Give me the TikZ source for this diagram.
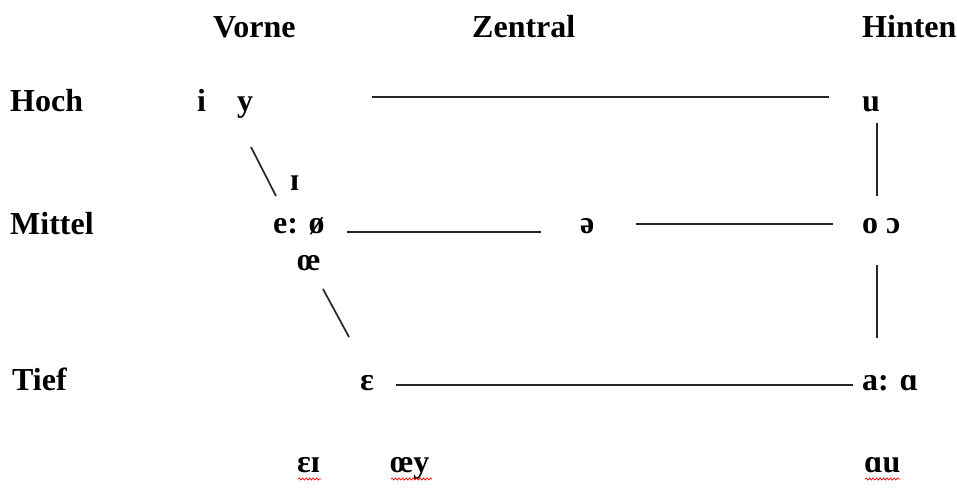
\documentclass[tikz,border=0pt]{standalone}
\usepackage{fontspec}
\setmainfont{Liberation Serif}
\usetikzlibrary{decorations.pathmorphing}
\begin{document}
\begin{tikzpicture}[x=1pt,y=-1pt,
  lbl/.style={anchor=base west,inner sep=0pt,font=\fontsize{32}{34}\selectfont\bfseries},
  ln/.style={line width=1.7pt,black!85},
  squig/.style={red,line width=0.7pt,decorate,decoration={snake,amplitude=1.1pt,segment length=3.5pt}}]
\useasboundingbox (0,0) rectangle (957,490);
% headings
\node[lbl] (vorne) at (213,37) {Vorne};
\node[lbl] (zentral) at (472,37) {Zentral};
\node[lbl] (hinten) at (862,37) {Hinten};
\node[lbl] (hoch) at (10,111) {Hoch};
\node[lbl] (mittel) at (10,234) {Mittel};
\node[lbl] (tief) at (12,390) {Tief};
% vowels
\node[lbl] (i) at (197,111) {i};
\node[lbl] (y) at (237,111) {y};
\node[lbl] (u) at (862,111) {u};
\node[lbl] (I) at (290,190) {ɪ};
\node[lbl] (eo) at (273,233) {e: ø};
\node[lbl] (schwa) at (580,233) {ə};
\node[lbl] (oo) at (862,233) {o ɔ};
\node[lbl] (oe) at (297,270) {œ};
\node[lbl] (eps) at (360,390) {ɛ};
\node[lbl] (aa) at (862,390) {a: ɑ};
\node[lbl] (ei) at (297,472) {ɛɪ};
\node[lbl] (oey) at (390,472) {œy};
\node[lbl] (au) at (864,472) {ɑu};
% line end points
\coordinate (h1) at (372,97);
\coordinate (h2) at (829,97);
\coordinate (d1a) at (251,147);
\coordinate (d1b) at (276,196);
\coordinate (m1a) at (347,232);
\coordinate (m1b) at (541,232);
\coordinate (m2a) at (636,224);
\coordinate (m2b) at (833,224);
\coordinate (v1a) at (877,123);
\coordinate (v1b) at (877,196);
\coordinate (v2a) at (877,265);
\coordinate (v2b) at (877,338);
\coordinate (d2a) at (323,289);
\coordinate (d2b) at (349,337);
\coordinate (t1) at (396,385);
\coordinate (t2) at (853,385);
\draw[ln] (h1) -- (h2);
\draw[ln] (d1a) -- (d1b);
\draw[ln] (m1a) -- (m1b);
\draw[ln] (m2a) -- (m2b);
\draw[ln] (v1a) -- (v1b);
\draw[ln] (v2a) -- (v2b);
\draw[ln] (d2a) -- (d2b);
\draw[ln] (t1) -- (t2);
% spell-check squiggles
\coordinate (s1a) at (298,479); \coordinate (s1b) at (321,479);
\coordinate (s2a) at (391,479); \coordinate (s2b) at (432,479);
\coordinate (s3a) at (865,479); \coordinate (s3b) at (900,479);
\draw[squig] (s1a) -- (s1b);
\draw[squig] (s2a) -- (s2b);
\draw[squig] (s3a) -- (s3b);
\end{tikzpicture}
\end{document}
